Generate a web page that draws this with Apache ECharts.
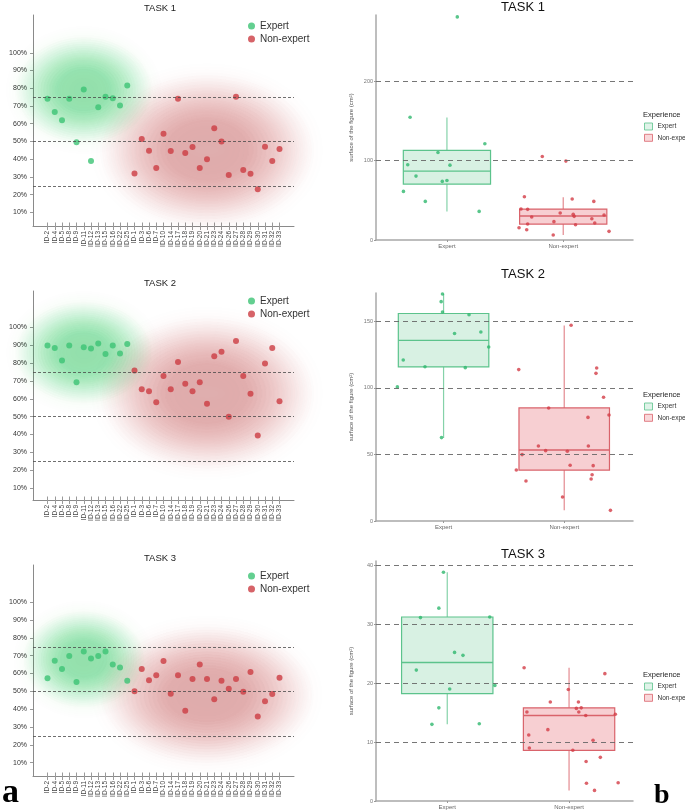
<!DOCTYPE html>
<html lang="en">
<head>
<meta charset="UTF-8">
<title>TASK 1-3</title>
<script src="https://cdn.jsdelivr.net/npm/echarts@6/dist/echarts.min.js"></script>
<style>
    html, body { margin: 0; padding: 0; background: #fff; }
    #main { width: 685px; height: 812px; }
</style>
</head>
<body>
<div id="main"></div>
<script>
// ---- data: left panels (share of correct answers, %) ----
var expertIds = ['ID-2', 'ID-4', 'ID-5', 'ID-8', 'ID-9', 'ID-11', 'ID-12', 'ID-13', 'ID-15', 'ID-16', 'ID-22', 'ID-25']
var nonExpertIds = ['ID-1', 'ID-3', 'ID-6', 'ID-7', 'ID-10', 'ID-14', 'ID-17', 'ID-18', 'ID-19', 'ID-20', 'ID-21',
    'ID-23', 'ID-24', 'ID-26', 'ID-27', 'ID-28', 'ID-29', 'ID-30', 'ID-31', 'ID-32', 'ID-33']
var pctTicks = [10, 20, 30, 40, 50, 60, 70, 80, 90, 100]
var thresholds = [25, 50, 75]

var task1Expert = [74, 66.6, 62, 74, 49.6, 79.3, 38.9, 69.3, 75.2, 74.3, 70.2, 81.5]
var task1NonExpert = [31.9, 51.3, 44.8, 35, 54.3, 44.6, 74, 43.5, 46.8, 35, 40, 57.4, 50, 31, 75.2, 33.9, 31.7, 23, 47, 39, 45.7]
var task2Expert = [90, 88.5, 81.5, 90, 69.4, 89, 88.3, 91, 85.2, 90, 85.4, 90.8]
var task2NonExpert = [75.9, 65.4, 64.3, 58.1, 72.8, 65.4, 80.7, 68.5, 64.3, 69.4, 57.3, 83.9, 86.5, 50, 92.4, 72.8, 62.9, 39.4, 79.8, 88.5, 58.7]
var task3Expert = [57.4, 67.2, 62.6, 69.8, 55.2, 72.4, 68.5, 69.8, 72.4, 65, 63.4, 56]
var task3NonExpert = [50, 62.6, 56.2, 59.1, 67, 48.7, 59.1, 39.1, 56.9, 65, 56.9, 45.5, 56, 51.5, 56.9, 49.8, 60.8, 35.9, 44.4, 48.5, 57.7]

// ---- data: right panels (surface of the figure, cm2) ----
var groupNames = ['Expert', 'Non-expert']
// [lower whisker, Q1, median, Q3, upper whisker]
var task1ExpertBox = [36, 70.4, 86.8, 112.8, 154.3]
var task1NonExpertBox = [6.3, 20.1, 30.2, 39, 54]
var task2ExpertBox = [62.4, 115.8, 135.8, 156, 170.7]
var task2NonExpertBox = [8, 38.3, 53.4, 85, 147]
var task3ExpertBox = [13, 18.2, 23.5, 31.2, 38.8]
var task3NonExpertBox = [1.8, 8.6, 14.5, 15.8, 22.6]

var task1ExpertSurface = [281, 154.7, 110.3, 121.2, 94.8, 94.3, 80.5, 73.8, 75, 61.2, 48.6, 36]
var task1ExpertJitter = [0.089, -0.317, -0.077, 0.326, -0.337, 0.026, -0.266, -0.04, 0, -0.374, -0.186, 0.277]
var task1NonExpertSurface = [105.2, 99.4, 54.5, 51.6, 48.6, 39, 38.6, 34, 32.3, 31.4, 28.9, 29.8, 26.8, 23.1, 20.1, 21.4, 19.3, 15.5, 13, 10.9, 6.3]
var task1NonExpertJitter = [-0.18, 0.023, -0.334, 0.077, 0.263, -0.363, -0.306, -0.026, 0.086, 0.351, -0.271, 0.094, 0.246, -0.08, -0.306, 0.271, 0.106, -0.38, -0.314, 0.394, -0.086]

var task2ExpertSurface = [170.7, 164.9, 157.1, 155.1, 141, 142.1, 130.8, 121, 116, 115.3, 100.8, 62.7]
var task2ExpertJitter = [-0.009, -0.02, -0.009, 0.211, 0.091, 0.309, 0.374, -0.334, -0.154, 0.18, -0.383, -0.017]
var task2NonExpertSurface = [147.1, 113.8, 115, 111, 93, 85, 77.9, 79.7, 56.4, 56.4, 52.9, 52.4, 49.9, 41.9, 41.6, 38.3, 34.8, 31.6, 30.1, 18, 8]
var task2NonExpertJitter = [0.057, -0.377, 0.269, 0.263, 0.326, -0.129, 0.197, 0.371, -0.214, 0.2, -0.154, 0.026, -0.349, 0.049, 0.24, -0.397, 0.231, 0.223, -0.317, -0.014, 0.383]

var task3ExpertSurface = [38.8, 32.7, 31.1, 31.2, 25.2, 24.7, 22.2, 19.6, 19, 15.8, 13, 13.1]
var task3ExpertJitter = [-0.031, -0.069, -0.22, 0.349, 0.06, 0.129, -0.254, 0.391, 0.02, -0.069, -0.126, 0.263]
var task3NonExpertSurface = [22.6, 21.6, 18.9, 16.8, 16.8, 15.7, 15.8, 15.1, 15.1, 14.5, 14.7, 12.1, 11.2, 10.3, 9, 8.6, 7.4, 6.7, 3, 3.1, 1.8]
var task3NonExpertJitter = [-0.369, 0.294, -0.006, -0.154, 0.077, 0.06, 0.1, 0.08, -0.346, 0.137, 0.38, -0.174, -0.331, 0.197, -0.326, 0.031, 0.257, 0.14, 0.143, 0.403, 0.209]

// ---- styles ----
var FONT = 'Liberation Sans, Arial, sans-serif'
var GREEN = '#3cc374'
var RED = '#cc3c42'
var BOX = {
    'Expert': { stroke: '#5cc38c', fill: 'rgba(92,195,140,0.24)', point: '#2fb86e' },
    'Non-expert': { stroke: '#d9636b', fill: 'rgba(230,105,115,0.32)', point: '#d33c46' }
}
// soft halo: many faint stacked ellipses, biggest first
var glowLayers = []
for (var f = 1; f > 0.38; f -= 0.04) glowLayers.push(f)

var allIds = expertIds.concat(nonExpertIds)
var axisIds = ['', ''].concat(allIds, ['', ''])  // two empty slots each side, like the original axis

var leftPanels = [
    { title: 'TASK 1', titleY: 8, top: 15, height: 211, min: 2.3, max: 121.3, legendTop: 21,
      expert: task1Expert, non: task1NonExpert,
      glows: [{ id: 'ID-11', v: 79, size: [135, 105], color: '#48c87c' }, { id: 'ID-21', v: 45, size: [210, 150], color: '#d76670' }] },
    { title: 'TASK 2', titleY: 283, top: 291, height: 209, min: 3.3, max: 120.5, legendTop: 296,
      expert: task2Expert, non: task2NonExpert,
      glows: [{ id: 'ID-11', v: 86, size: [135, 100], color: '#48c87c' }, { id: 'ID-21', v: 63, size: [210, 150], color: '#d76670' }] },
    { title: 'TASK 3', titleY: 558, top: 565, height: 211, min: 2.5, max: 120.9, legendTop: 571,
      expert: task3Expert, non: task3NonExpert,
      glows: [{ id: 'ID-11', v: 68, size: [120, 95], color: '#48c87c' }, { id: 'ID-21', v: 48, size: [210, 135], color: '#d76670' }] }
]

var rightPanels = [
    { title: 'TASK 1', titleY: 7, top: 15, height: 225, xMin: 0.39, xMax: 2.6, yMax: 283.4,
      ticks: [0, 100, 200], lines: [100, 200], legendY: 115,
      boxes: [task1ExpertBox, task1NonExpertBox],
      points: [[task1ExpertJitter, task1ExpertSurface], [task1NonExpertJitter, task1NonExpertSurface]] },
    { title: 'TASK 2', titleY: 274, top: 293, height: 228, xMin: 0.44, xMax: 2.57, yMax: 171.4,
      ticks: [0, 50, 100, 150], lines: [50, 100, 150], legendY: 395,
      boxes: [task2ExpertBox, task2NonExpertBox],
      points: [[task2ExpertJitter, task2ExpertSurface], [task2NonExpertJitter, task2NonExpertSurface]] },
    { title: 'TASK 3', titleY: 554, top: 561, height: 240, xMin: 0.415, xMax: 2.525, yMax: 40.7,
      ticks: [0, 10, 20, 30, 40], lines: [10, 20, 30, 40], legendY: 675,
      boxes: [task3ExpertBox, task3NonExpertBox],
      points: [[task3ExpertJitter, task3ExpertSurface], [task3NonExpertJitter, task3NonExpertSurface]] }
]

var grid = [], xAxis = [], yAxis = [], series = [], legend = [], graphic = []

function boxRenderer(style) {
    return function (params, api) {
        var x = api.value(0), half = 0.375
        var lo = api.coord([x, api.value(1)])
        var q1 = api.coord([x + half, api.value(2)])
        var medL = api.coord([x - half, api.value(3)])
        var medR = api.coord([x + half, api.value(3)])
        var q3 = api.coord([x - half, api.value(4)])
        var hi = api.coord([x, api.value(5)])
        return {
            type: 'group',
            children: [
                { type: 'line', shape: { x1: hi[0], y1: hi[1], x2: hi[0], y2: q3[1] }, style: { stroke: style.stroke, lineWidth: 1.2, opacity: 0.75 } },
                { type: 'line', shape: { x1: lo[0], y1: q1[1], x2: lo[0], y2: lo[1] }, style: { stroke: style.stroke, lineWidth: 1.2, opacity: 0.75 } },
                { type: 'rect', shape: { x: q3[0], y: q3[1], width: q1[0] - q3[0], height: q1[1] - q3[1] }, style: { fill: style.fill, stroke: style.stroke, lineWidth: 1.2 } },
                { type: 'line', shape: { x1: medL[0], y1: medL[1], x2: medR[0], y2: medR[1] }, style: { stroke: style.stroke, lineWidth: 1.4 } }
            ]
        }
    }
}

// #region left panels
leftPanels.forEach(function (p) {
    var g = grid.length
    grid.push({ left: 33, width: 261, top: p.top, height: p.height })
    xAxis.push({
        gridIndex: g, type: 'category', data: axisIds, boundaryGap: false,
        axisLine: { lineStyle: { color: '#8a8a8a', width: 1 } },
        axisTick: { show: true, length: 4, interval: function (i, v) { return v !== '' }, lineStyle: { color: '#9a9a9a' } },
        axisLabel: { interval: 0, rotate: 90, fontSize: 6.5, color: '#444', margin: 5, fontFamily: FONT }
    })
    yAxis.push({
        gridIndex: g, type: 'value', min: p.min, max: p.max,
        axisLine: { show: true, lineStyle: { color: '#8a8a8a', width: 1 } },
        axisTick: { show: true, customValues: pctTicks, length: 3, lineStyle: { color: '#9a9a9a' } },
        axisLabel: { customValues: pctTicks, formatter: '{value}%', fontSize: 7, color: '#333', margin: 6, fontFamily: FONT },
        splitLine: { show: false }
    })

    p.glows.forEach(function (gl) {
        var pos = [axisIds.indexOf(gl.id), gl.v]
        series.push({
            type: 'scatter', name: 'glow', xAxisIndex: g, yAxisIndex: g, silent: true, z: 0, clip: false,
            symbol: 'circle',
            symbolSize: function (val, params) {
                var k = glowLayers[params.dataIndex]
                return [gl.size[0] * k, gl.size[1] * k]
            },
            itemStyle: { color: gl.color, opacity: 0.02, shadowBlur: 30, shadowColor: gl.color },
            data: glowLayers.map(function () { return pos })
        })
    })
    series.push({
        type: 'scatter', name: 'Expert', xAxisIndex: g, yAxisIndex: g, symbolSize: 6, z: 3,
        itemStyle: { color: GREEN },
        data: expertIds.map(function (id, i) { return [axisIds.indexOf(id), p.expert[i]] }),
        markLine: {
            silent: true, symbol: 'none', label: { show: false },
            lineStyle: { type: [3, 2], color: '#4a4a4a', width: 0.8 },
            data: thresholds.map(function (t) { return { yAxis: t } })
        }
    })
    series.push({
        type: 'scatter', name: 'Non-expert', xAxisIndex: g, yAxisIndex: g, symbolSize: 6, z: 3,
        itemStyle: { color: RED },
        data: nonExpertIds.map(function (id, i) { return [axisIds.indexOf(id), p.non[i]] })
    })

    // inside half of the crossing ticks, on an overlay grid
    var o = grid.length
    grid.push({ left: 33, width: 261, top: p.top, height: p.height })
    xAxis.push({
        gridIndex: o, type: 'category', data: axisIds, boundaryGap: false,
        axisLine: { show: false }, axisLabel: { show: false },
        axisTick: { show: true, inside: true, length: 3.5, interval: function (i, v) { return v !== '' }, lineStyle: { color: '#9a9a9a' } }
    })
    yAxis.push({ gridIndex: o, type: 'value', show: false })

    legend.push({
        orient: 'vertical', left: 248, top: p.legendTop, padding: 0, itemGap: 3,
        itemWidth: 7, itemHeight: 7, icon: 'circle', selectedMode: false,
        textStyle: { fontSize: 10, color: '#333', fontFamily: FONT },
        data: [{ name: 'Expert', itemStyle: { color: GREEN } }, { name: 'Non-expert', itemStyle: { color: RED } }]
    })
    graphic.push({ type: 'text', x: 160, y: p.titleY, style: { text: p.title, font: '9.5px ' + FONT, fill: '#222', align: 'center', verticalAlign: 'middle' } })
})
// #endregion

// #region right panels
rightPanels.forEach(function (p) {
    var g = grid.length
    grid.push({ left: 376, width: 257, top: p.top, height: p.height })
    xAxis.push({
        gridIndex: g, type: 'value', min: p.xMin, max: p.xMax,
        axisLine: { show: true, onZero: false, lineStyle: { color: '#a8a8a8', width: 1.5 } },
        axisTick: { show: true, customValues: [1, 2], length: 2, lineStyle: { color: '#999' } },
        axisLabel: { customValues: [1, 2], formatter: function (v) { return groupNames[Math.round(v) - 1] }, fontSize: 6, color: '#666', margin: 3, fontFamily: FONT },
        splitLine: { show: false }
    })
    yAxis.push({
        gridIndex: g, type: 'value', min: 0, max: p.yMax,
        name: 'surface of the figure (cm²)', nameLocation: 'middle', nameGap: 22,
        nameTextStyle: { fontSize: 6, color: '#555', fontFamily: FONT },
        axisLine: { show: true, onZero: false, lineStyle: { color: '#a8a8a8', width: 1.5 } },
        axisTick: { show: true, customValues: p.ticks, length: 2, lineStyle: { color: '#999' } },
        axisLabel: { customValues: p.ticks, fontSize: 5.5, color: '#777', margin: 3, fontFamily: FONT },
        splitLine: { show: false }
    })

    groupNames.forEach(function (name, k) {
        var st = BOX[name]
        series.push({
            type: 'custom', name: name, xAxisIndex: g, yAxisIndex: g, z: 2,
            renderItem: boxRenderer(st),
            encode: { x: 0, y: [1, 2, 3, 4, 5] },
            itemStyle: { color: st.stroke },
            data: [[k + 1].concat(p.boxes[k])]
        })
        var jit = p.points[k][0], vals = p.points[k][1]
        var pts = {
            type: 'scatter', name: name, xAxisIndex: g, yAxisIndex: g, z: 4, symbolSize: 3.6,
            itemStyle: { color: st.point },
            data: vals.map(function (v, i) { return [k + 1 + jit[i], v] })
        }
        if (k === 0) {
            pts.markLine = {
                silent: true, symbol: 'none', label: { show: false },
                lineStyle: { type: [5, 4], color: '#666', width: 0.9 },
                data: p.lines.map(function (t) { return { yAxis: t } })
            }
        }
        series.push(pts)
    })

    legend.push({
        orient: 'vertical', left: 644, top: p.legendY + 7.5, padding: 0, itemGap: 3.3,
        itemWidth: 8, itemHeight: 7, selectedMode: false,
        textStyle: { fontSize: 6.5, color: '#333', fontFamily: FONT },
        data: groupNames.map(function (name) {
            return { name: name, icon: 'rect', itemStyle: { color: BOX[name].fill, borderColor: BOX[name].stroke, borderWidth: 1 } }
        })
    })
    graphic.push({ type: 'text', x: 643, y: p.legendY, style: { text: 'Experience', font: '7.5px ' + FONT, fill: '#222', verticalAlign: 'middle' } })
    graphic.push({ type: 'text', x: 523, y: p.titleY, style: { text: p.title, font: '13px ' + FONT, fill: '#111', align: 'center', verticalAlign: 'middle' } })
})
// #endregion

graphic.push({ type: 'text', x: 2, y: 810, style: { text: 'a', font: 'bold 34px Liberation Serif, serif', fill: '#000', verticalAlign: 'bottom' } })
graphic.push({ type: 'text', x: 654, y: 810, style: { text: 'b', font: 'bold 28px Liberation Serif, serif', fill: '#000', verticalAlign: 'bottom' } })

var chart = echarts.init(document.getElementById('main'))
chart.setOption({
    animation: false,
    backgroundColor: '#fff',
    textStyle: { fontFamily: FONT },
    grid: grid,
    xAxis: xAxis,
    yAxis: yAxis,
    legend: legend,
    graphic: graphic,
    series: series
})
</script>
</body>
</html>
